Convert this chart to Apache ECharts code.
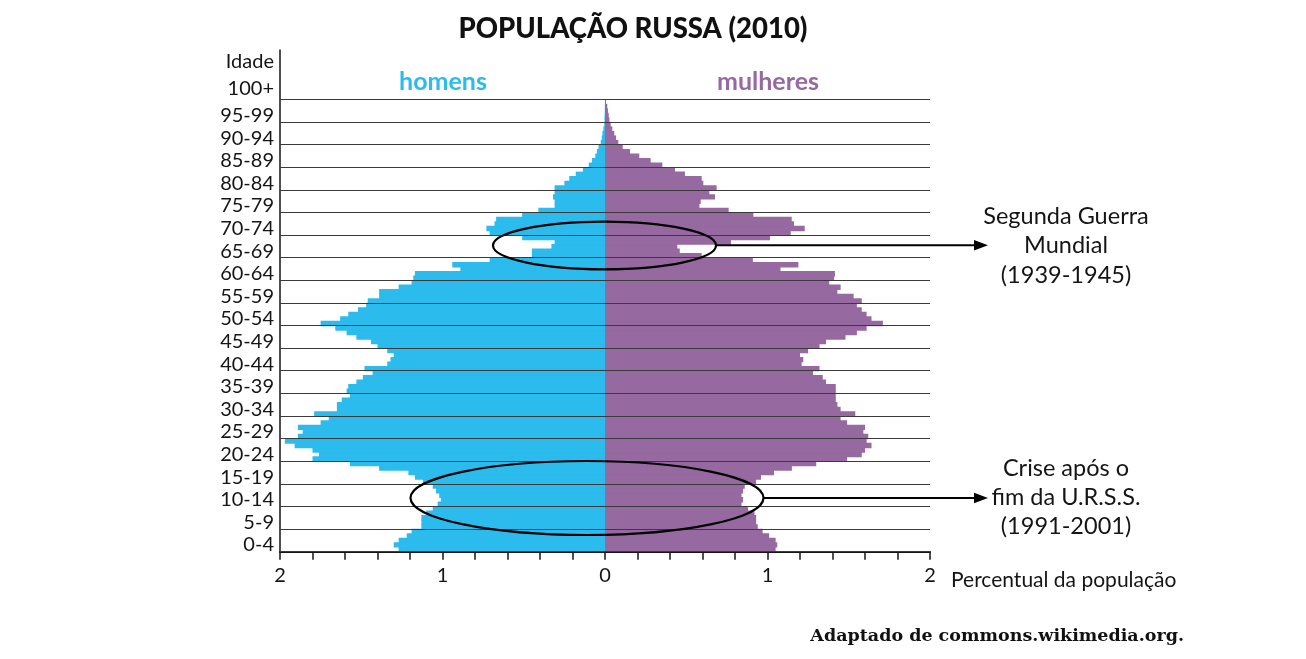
<!DOCTYPE html>
<html>
<head>
<meta charset="utf-8">
<title>População russa (2010)</title>
<script src="https://cdn.jsdelivr.net/npm/echarts@6/dist/echarts.min.js"></script>
<style>
  html, body { margin: 0; padding: 0; background: #fff; }
  #main { width: 1306px; height: 659px; }
</style>
</head>
<body>
<div id="main"></div>
<script>
// percent of total population, single years of age 0..99
var men = [
  1.27, 1.30, 1.27, 1.22, 1.19, 1.13, 1.13, 1.13, 1.10, 1.06,
  1.03, 1.01, 1.02, 1.04, 1.06, 1.12, 1.17, 1.21, 1.39, 1.57,
  1.80, 1.76, 1.80, 1.91, 1.97, 1.89, 1.86, 1.89, 1.75, 1.70,
  1.79, 1.65, 1.65, 1.62, 1.57, 1.59, 1.58, 1.53, 1.49, 1.43,
  1.48, 1.34, 1.32, 1.30, 1.34, 1.40, 1.44, 1.53, 1.59, 1.66,
  1.75, 1.63, 1.58, 1.52, 1.47, 1.46, 1.39, 1.39, 1.27, 1.19,
  1.18, 1.17, 0.89, 0.94, 0.71, 0.45, 0.45, 0.33, 0.31, 0.51,
  0.71, 0.73, 0.68, 0.67, 0.51, 0.41, 0.31, 0.31, 0.32, 0.31,
  0.31, 0.25, 0.22, 0.18, 0.136, 0.10, 0.08, 0.06, 0.05, 0.04,
  0.026, 0.02, 0.016, 0.01, 0.005, 0.003, 0.002, 0.001, 0.001, 0
];
var women = [
  1.05, 1.06, 1.05, 1.01, 0.97, 0.94, 0.93, 0.93, 0.92, 0.88,
  0.84, 0.85, 0.84, 0.85, 0.86, 0.93, 0.96, 1.04, 1.15, 1.30,
  1.49, 1.58, 1.60, 1.64, 1.61, 1.62, 1.59, 1.60, 1.49, 1.45,
  1.54, 1.45, 1.43, 1.42, 1.42, 1.42, 1.42, 1.36, 1.34, 1.28,
  1.32, 1.21, 1.22, 1.20, 1.25, 1.32, 1.36, 1.48, 1.55, 1.61,
  1.71, 1.64, 1.61, 1.58, 1.55, 1.58, 1.53, 1.43, 1.45, 1.38,
  1.41, 1.415, 1.08, 1.19, 0.91, 0.595, 0.46, 0.445, 0.775, 1.015,
  1.143, 1.229, 1.163, 1.149, 0.913, 0.761, 0.581, 0.589, 0.677, 0.642,
  0.687, 0.605, 0.595, 0.492, 0.431, 0.353, 0.281, 0.211, 0.154, 0.109,
  0.082, 0.068, 0.057, 0.045, 0.035, 0.027, 0.023, 0.018, 0.014, 0.006
];
var groupLabels = [
  '0-4', '5-9', '10-14', '15-19', '20-24', '25-29', '30-34', '35-39',
  '40-44', '45-49', '50-54', '55-59', '60-64', '65-69', '70-74', '75-79',
  '80-84', '85-89', '90-94', '95-99', '100+'
];

// rows 0..110: the empty rows above 99 hold "100+" and "Idade"
var ages = [];
for (var a = 0; a <= 110; a++) ages.push(String(a));

var labelAt = {};
for (var k = 0; k < 20; k++) labelAt[5 * k + 1] = groupLabels[k];
labelAt[102] = groupLabels[20];
labelAt[108] = 'Idade';

var blue = '#2bbbec';
var purple = '#9669a1';
var ink = '#151515';
var font = 'Lato, "Open Sans", sans-serif';

var myChart = echarts.init(document.getElementById('main'));

var option = {
  animation: false,
  grid: [
    { left: 280, right: 376, top: 50, bottom: 107.3 },
    // same box, only for the 5-year separator lines drawn over the bars
    { left: 280, right: 376, top: 99.3, bottom: 107.3 }
  ],
  xAxis: [{
    type: 'value',
    min: -2,
    max: 2,
    interval: 0.2,
    axisLine: { show: true, onZero: false, lineStyle: { color: ink, width: 2 } },
    axisTick: { show: true, length: 8, lineStyle: { color: ink, width: 1.5 } },
    splitLine: { show: false },
    axisLabel: {
      margin: 14,
      fontSize: 20,
      fontFamily: font,
      color: ink,
      formatter: function (v) {
        var r = Math.round(v);
        return Math.abs(v - r) < 1e-6 ? String(Math.abs(r)) : '';
      }
    }
  }, {
    type: 'value',
    gridIndex: 1,
    show: false
  }],
  yAxis: [{
    type: 'category',
    data: ages,
    axisLine: { show: true, onZero: false, lineStyle: { color: ink, width: 1.5 } },
    axisTick: { show: false },
    splitLine: { show: false },
    axisLabel: {
      margin: 6,
      fontSize: 20,
      fontFamily: font,
      color: ink,
      interval: function (i) { return labelAt[i] !== undefined; },
      formatter: function (v, i) { return labelAt[i] || ''; }
    }
  }, {
    type: 'category',
    gridIndex: 1,
    data: groupLabels.slice(0, 20),
    z: 5,
    axisLine: { show: false },
    axisTick: { show: false },
    axisLabel: { show: false },
    splitLine: { show: true, interval: 0, lineStyle: { color: '#3a3a3a', width: 1.2 } }
  }],
  series: [{
    name: 'homens',
    type: 'bar',
    data: men.map(function (v) { return -v; }),
    barWidth: 5.4,
    barGap: '-100%',
    silent: true,
    itemStyle: { color: blue }
  }, {
    name: 'mulheres',
    type: 'bar',
    data: women,
    barWidth: 5.4,
    barGap: '-100%',
    silent: true,
    itemStyle: { color: purple }
  }],
  graphic: [
    { type: 'text', x: 633, y: 29, z: 10,
      style: { text: 'POPULAÇÃO RUSSA (2010)', fill: '#111', font: '900 27.5px ' + font, align: 'center', verticalAlign: 'middle' } },
    { type: 'text', x: 443, y: 82, z: 10,
      style: { text: 'homens', fill: blue, font: 'bold 25px ' + font, align: 'center', verticalAlign: 'middle' } },
    { type: 'text', x: 768, y: 82, z: 10,
      style: { text: 'mulheres', fill: purple, font: 'bold 25px ' + font, align: 'center', verticalAlign: 'middle' } },

    // Segunda Guerra Mundial
    { type: 'ellipse', z: 20, shape: { cx: 604.5, cy: 245.5, rx: 111.5, ry: 23.8 },
      style: { fill: 'none', stroke: '#000', lineWidth: 2.2 } },
    { type: 'line', z: 20, shape: { x1: 716, y1: 245.3, x2: 978, y2: 245.3 },
      style: { stroke: '#000', lineWidth: 2 } },
    { type: 'polygon', z: 20, shape: { points: [[988, 245.3], [974, 240], [974, 250.6]] },
      style: { fill: '#000' } },
    { type: 'text', x: 1066, y: 216, z: 10,
      style: { text: 'Segunda Guerra', fill: ink, font: '23.5px ' + font, align: 'center', verticalAlign: 'middle' } },
    { type: 'text', x: 1066, y: 245, z: 10,
      style: { text: 'Mundial', fill: ink, font: '23.5px ' + font, align: 'center', verticalAlign: 'middle' } },
    { type: 'text', x: 1066, y: 275, z: 10,
      style: { text: '(1939-1945)', fill: ink, font: '23.5px ' + font, align: 'center', verticalAlign: 'middle' } },

    // Crise após o fim da U.R.S.S.
    { type: 'ellipse', z: 20, shape: { cx: 587, cy: 498, rx: 176.5, ry: 37 },
      style: { fill: 'none', stroke: '#000', lineWidth: 2.2 } },
    { type: 'line', z: 20, shape: { x1: 764, y1: 498, x2: 978, y2: 498 },
      style: { stroke: '#000', lineWidth: 2 } },
    { type: 'polygon', z: 20, shape: { points: [[988, 498], [974, 492.7], [974, 503.3]] },
      style: { fill: '#000' } },
    { type: 'text', x: 1066, y: 468, z: 10,
      style: { text: 'Crise após o', fill: ink, font: '23.5px ' + font, align: 'center', verticalAlign: 'middle' } },
    { type: 'text', x: 1066, y: 497, z: 10,
      style: { text: 'fim da U.R.S.S.', fill: ink, font: '23.5px ' + font, align: 'center', verticalAlign: 'middle' } },
    { type: 'text', x: 1066, y: 526, z: 10,
      style: { text: '(1991-2001)', fill: ink, font: '23.5px ' + font, align: 'center', verticalAlign: 'middle' } },

    { type: 'text', x: 951, y: 580, z: 10,
      style: { text: 'Percentual da população', fill: ink, font: '21px ' + font, align: 'left', verticalAlign: 'middle' } },
    { type: 'text', x: 1184, y: 636, z: 10,
      style: { text: 'Adaptado de commons.wikimedia.org.', fill: '#111', font: 'bold 17.5px "DejaVu Serif", serif', align: 'right', verticalAlign: 'middle' } }
  ]
};

myChart.setOption(option);
</script>
</body>
</html>
